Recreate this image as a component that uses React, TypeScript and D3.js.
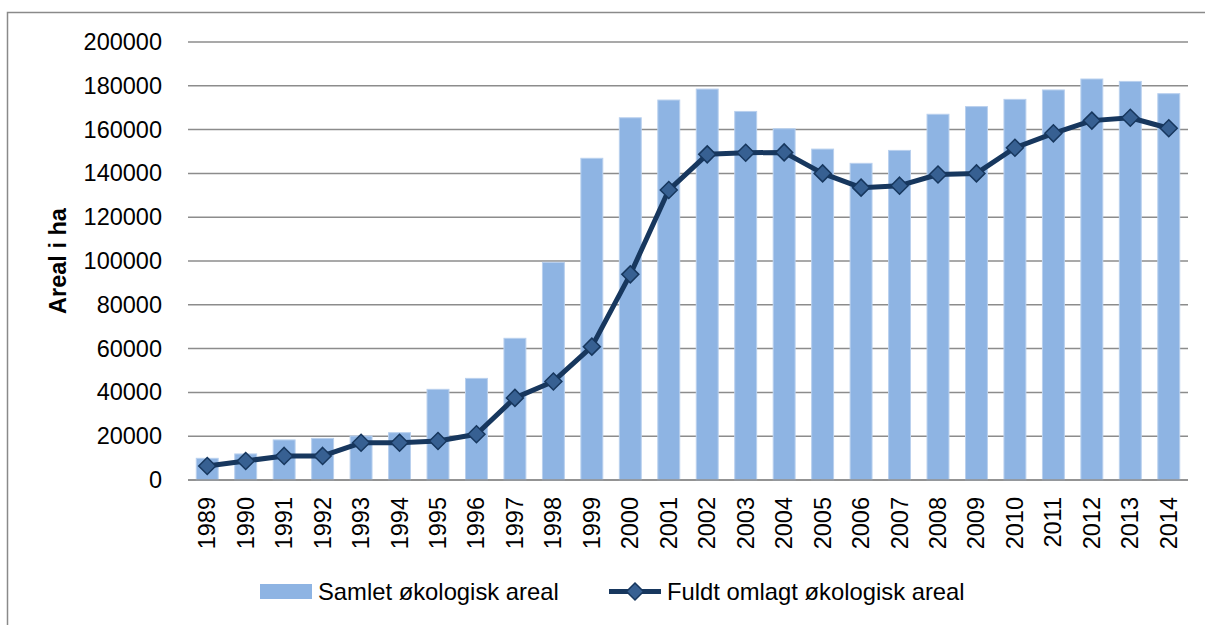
import * as d3 from "d3";

const years = ["1989", "1990", "1991", "1992", "1993", "1994", "1995", "1996", "1997", "1998", "1999", "2000", "2001",
    "2002", "2003", "2004", "2005", "2006", "2007", "2008", "2009", "2010", "2011", "2012", "2013", "2014"];
// Samlet økologisk areal (bars)
const samlet = [9900, 11900, 18300, 19000, 20100, 21600, 41400, 46400, 64700, 99400, 146900, 165400, 173500,
    178500, 168300, 160400, 151100, 144600, 150500, 167000, 170500, 173800, 178100, 183100, 182000, 176400];
// Fuldt omlagt økologisk areal (line)
const fuldt = [6400, 8700, 11000, 11000, 17000, 17000, 17800, 20900, 37500, 45000, 60900, 93900, 132400,
    148700, 149400, 149600, 140000, 133500, 134400, 139500, 140000, 151700, 158300, 164100, 165400, 160600];
const yTicks = [0, 20000, 40000, 60000, 80000, 100000, 120000, 140000, 160000, 180000, 200000];
const seriesNames = ["Samlet økologisk areal", "Fuldt omlagt økologisk areal"];
const yTitle = "Areal i ha";

const W = 1205;
const H = 625;
const m = {l: 188, r: 1188, t: 42, b: 480};
const font = '"Liberation Sans", Arial, sans-serif';
const colors = {
    bar: "#8eb4e3",
    barEdge: "#b9d0ee",
    line: "#17375e",
    marker: "#376092",
    grid: "#8c8c8c",
    text: "#000"
};

const diamond = (cx: number, cy: number, r: number) =>
    `M${cx},${cy - r}L${cx + r},${cy}L${cx},${cy + r}L${cx - r},${cy}Z`;

export default function App() {
    const x = d3.scaleBand<string>()
        .domain(years)
        .range([m.l, m.r])
        .paddingInner(0.43)
        .paddingOuter(0.215);
    const y = d3.scaleLinear()
        .domain([0, 200000])
        .range([m.b, m.t]);
    const cx = (yr: string) => (x(yr) || 0) + x.bandwidth() / 2;

    const line = d3.line<number>()
        .x((_, i) => cx(years[i]))
        .y(d => y(d));

    return (
        <svg width={W} height={H} style={{position: "absolute", left: 0, top: 0, fontFamily: font}}>
            <rect x={0} y={0} width={W} height={H} fill="#fff"/>
            {/* outer chart frame, runs off the right and bottom edge */}
            <path d={`M7.5,${H + 5}V12.5H${W + 5}`} fill="none" stroke="#8a8a8a" strokeWidth={1.5}/>

            {yTicks.map(t => (
                <g key={t}>
                    <line x1={m.l} x2={m.r} y1={y(t)} y2={y(t)} stroke={colors.grid} strokeWidth={1.5}/>
                    <text x={162} y={y(t)} textAnchor="end" dominantBaseline="central" fontSize={23.5}
                          fill={colors.text}>{t}</text>
                </g>
            ))}

            {years.map((yr, i) => (
                <rect key={yr} x={x(yr)} y={y(samlet[i])} width={x.bandwidth()} height={y(0) - y(samlet[i])}
                      fill={colors.bar} stroke={colors.barEdge} strokeWidth={1}/>
            ))}

            <line x1={m.l} x2={m.r} y1={y(0)} y2={y(0)} stroke={colors.grid} strokeWidth={1.5}/>

            <path d={line(fuldt) || ""} fill="none" stroke={colors.line} strokeWidth={5} strokeLinejoin="round"/>
            {fuldt.map((v, i) => (
                <path key={i} d={diamond(cx(years[i]), y(v), 8.5)} fill={colors.marker} stroke={colors.line}
                      strokeWidth={1.5}/>
            ))}

            {years.map(yr => (
                <text key={yr} transform={`translate(${cx(yr)},497) rotate(-90)`} textAnchor="end"
                      dominantBaseline="central" fontSize={23.5} fill={colors.text}>{yr}</text>
            ))}

            <text transform={`translate(58,${(m.t + m.b) / 2}) rotate(-90)`} textAnchor="middle"
                  dominantBaseline="central" fontSize={23.5} fontWeight="bold" fill={colors.text}>{yTitle}</text>

            {/* legend */}
            <rect x={260} y={584} width={52} height={15} fill={colors.bar}/>
            <text x={318} y={591.5} dominantBaseline="central" fontSize={23.8} fill={colors.text}>{seriesNames[0]}</text>
            <line x1={609} x2={661} y1={591.5} y2={591.5} stroke={colors.line} strokeWidth={5}/>
            <path d={diamond(635, 591.5, 8.5)} fill={colors.marker} stroke={colors.line} strokeWidth={1.5}/>
            <text x={667} y={591.5} dominantBaseline="central" fontSize={23.8} fill={colors.text}>{seriesNames[1]}</text>
        </svg>
    );
}
